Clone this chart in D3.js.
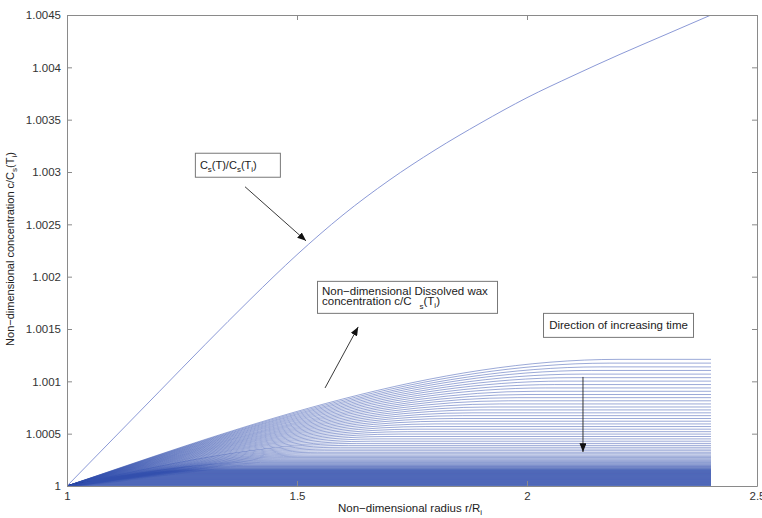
<!DOCTYPE html>
<html>
<head>
<meta charset="utf-8">
<script src="https://cdn.jsdelivr.net/npm/d3@7"></script>
<style>
  body { margin: 0; background: #fff; }
  text { font-family: "Liberation Sans", Arial, sans-serif; }
</style>
</head>
<body>
<svg id="chart" width="762" height="518"></svg>
<script>
// axis ticks
var radiusTicks = [1, 1.5, 2, 2.5];
var radiusLabels = ["1", "1.5", "2", "2.5"];
var concTicks = [1, 1.0005, 1.001, 1.0015, 1.002, 1.0025, 1.003, 1.0035, 1.004, 1.0045];
var concLabels = ["1", "1.0005", "1.001", "1.0015", "1.002", "1.0025", "1.003", "1.0035", "1.004", "1.0045"];

// Cs(T)/Cs(Ti) curve
var satRadius = [1.0, 1.1, 1.2, 1.3, 1.4, 1.5, 1.6, 1.7, 1.8, 1.9, 2.0, 2.1, 2.2, 2.3, 2.4];
var satConc = [1, 1.00045, 1.0009, 1.00135, 1.00179, 1.00221, 1.00259, 1.00292, 1.00321,
               1.00347, 1.00371, 1.00392, 1.00412, 1.00431, 1.0045];

// dissolved wax profiles (one per time step): level reached at r = 2.4
// and the radius where each profile flattens out
var plateauLevel = [1.00121, 1.001174, 1.001138, 1.001104, 1.001069, 1.001035, 1.001002, 1.000969,
  1.000937, 1.000905, 1.000874, 1.000844, 1.000814, 1.000784, 1.000755, 1.000727, 1.000699,
  1.000672, 1.000645, 1.000619, 1.000593, 1.000568, 1.000543, 1.000519, 1.000496, 1.000473,
  1.00045, 1.000428, 1.000407, 1.000388, 1.00037, 1.000353, 1.000337, 1.000322, 1.000308,
  1.000295, 1.000283, 1.000272, 1.000261, 1.000251, 1.000242, 1.000233, 1.000225, 1.000217,
  1.00021, 1.000203, 1.000197, 1.000191, 1.000186, 1.000181, 1.000176, 1.000171, 1.000167,
  1.000162, 1.000158, 1.000155, 1.000152, 1.000149, 1.000146, 1.000143, 1.00014, 1.000137,
  1.000134, 1.000131, 1.000128, 1.000125, 1.000122, 1.000119, 1.000116, 1.000113, 1.00011,
  1.000107, 1.000104, 1.000101, 1.000098, 1.000095, 1.000092, 1.000089, 1.000086, 1.000083,
  1.00008, 1.000077, 1.000074, 1.000071, 1.000068, 1.000065, 1.000062, 1.000059, 1.000056,
  1.000053, 1.00005, 1.000047, 1.000044, 1.000041, 1.000038, 1.000035, 1.000032, 1.000029,
  1.000026, 1.000023, 1.00002, 1.000017, 1.000014, 1.000011, 1.000008, 1.000005, 1.000002];
var plateauStart = [2.20, 2.18, 2.16, 2.14, 2.12, 2.10, 2.08, 2.06, 2.04, 2.02, 2.00, 1.98,
  1.96, 1.94, 1.92, 1.90, 1.88, 1.86, 1.84, 1.82, 1.80, 1.78, 1.76, 1.74, 1.72, 1.70,
  1.68, 1.66, 1.63, 1.612, 1.594, 1.577, 1.56, 1.545, 1.529, 1.515, 1.502, 1.489, 1.476,
  1.464, 1.452, 1.439, 1.421, 1.411, 1.402, 1.393, 1.384, 1.376, 1.369, 1.363, 1.355,
  1.345, 1.337,
  1.328, 1.321, 1.316, 1.311, 1.305, 1.300, 1.295, 1.289, 1.284, 1.279, 1.273, 1.268,
  1.263, 1.257, 1.252, 1.246, 1.241, 1.236, 1.230, 1.225, 1.220, 1.214, 1.209, 1.204, 1.198,
  1.193, 1.188, 1.182, 1.177, 1.172, 1.166, 1.161, 1.156, 1.150, 1.145, 1.140, 1.134, 1.129,
  1.124, 1.118, 1.113, 1.108, 1.102, 1.097, 1.092, 1.086, 1.081, 1.076, 1.070, 1.065, 1.060,
  1.054, 1.049, 1.044];
var wallRadius = 1, outerRadius = 2.4;

var margin = { top: 15, right: 5, bottom: 32, left: 67 },
    width = 762 - margin.left - margin.right,
    height = 518 - margin.top - margin.bottom;

var svg = d3.select("#chart");
var g = svg.append("g").attr("transform", "translate(" + margin.left + "," + margin.top + ")");

var x = d3.scaleLinear().domain([1, 2.5]).range([0, width]);
var y = d3.scaleLinear().domain([1, 1.0045]).range([height, 0]);

var defs = svg.append("defs");
defs.append("clipPath").attr("id", "plotclip")
    .append("rect").attr("width", width).attr("height", height);

defs.append("marker")
    .attr("id", "head")
    .attr("viewBox", "0 0 10 8")
    .attr("refX", 10).attr("refY", 4)
    .attr("markerWidth", 9).attr("markerHeight", 7)
    .attr("markerUnits", "userSpaceOnUse")
    .attr("orient", "auto")
    .append("path").attr("d", "M0,0L10,4L0,8Z").attr("fill", "#111");

var line = d3.line()
    .x(function(d) { return x(d[0]); })
    .y(function(d) { return y(d[1]); })
    .curve(d3.curveMonotoneX);

var plot = g.append("g").attr("clip-path", "url(#plotclip)");

var profiles = plateauLevel.map(function(lvl, i) {
    return [[wallRadius, 1], [plateauStart[i], lvl], [outerRadius, lvl]];
});

plot.append("g")
    .attr("fill", "none")
    .attr("stroke", "#3350ad")
    .attr("stroke-opacity", 0.62)
    .attr("stroke-width", 0.8)
    .selectAll("path")
    .data(profiles)
    .enter().append("path")
    .attr("d", line);

plot.append("path")
    .datum(satRadius.map(function(r, i) { return [r, satConc[i]]; }))
    .attr("fill", "none")
    .attr("stroke", "#6d7fcc")
    .attr("stroke-width", 0.8)
    .attr("d", line);

// axes, MATLAB style box with inward ticks
function styleAxis(sel) {
    sel.selectAll("path.domain").attr("stroke", "#8a8a8a");
    sel.selectAll(".tick line").attr("stroke", "#8a8a8a");
    sel.selectAll("text").attr("fill", "#333").style("font-size", "11.5px")
        .style("font-family", "'Liberation Sans', Arial, sans-serif");
}

g.append("g")
    .attr("transform", "translate(0," + height + ")")
    .call(d3.axisBottom(x).tickValues(radiusTicks)
        .tickFormat(function(d, i) { return radiusLabels[i]; })
        .tickSizeInner(-5).tickSizeOuter(0).tickPadding(6))
    .call(styleAxis);

g.append("g")
    .call(d3.axisTop(x).tickValues(radiusTicks).tickFormat("")
        .tickSizeInner(-5).tickSizeOuter(0))
    .call(styleAxis);

g.append("g")
    .call(d3.axisLeft(y).tickValues(concTicks)
        .tickFormat(function(d, i) { return concLabels[i]; })
        .tickSizeInner(-5).tickSizeOuter(0).tickPadding(6))
    .call(styleAxis);

g.append("g")
    .attr("transform", "translate(" + width + ",0)")
    .call(d3.axisRight(y).tickValues(concTicks).tickFormat("")
        .tickSizeInner(-5).tickSizeOuter(0))
    .call(styleAxis);

// axis titles
var xt = svg.append("text")
    .attr("x", margin.left + x(1.75) - 2).attr("y", 512)
    .attr("text-anchor", "middle").attr("fill", "#222").style("font-size", "11.5px");
xt.append("tspan").text("Non\u2212dimensional radius r/R");
xt.append("tspan").attr("dy", 3).style("font-size", "8px").text("i");

var yt = svg.append("text")
    .attr("transform", "translate(14,249) rotate(-90)")
    .attr("text-anchor", "middle").attr("fill", "#222").style("font-size", "11px");
yt.append("tspan").text("Non\u2212dimensional concentration c/C");
yt.append("tspan").attr("dy", 3).style("font-size", "8px").text("s");
yt.append("tspan").attr("dy", -3).text("(T");
yt.append("tspan").attr("dy", 3).style("font-size", "8px").text("i");
yt.append("tspan").attr("dy", -3).text(")");

// annotations, placed in data coordinates
function box(r, c, w, h) {
    g.append("rect")
        .attr("x", x(r) + 0.5).attr("y", y(c) + 0.5)
        .attr("width", w).attr("height", h)
        .attr("fill", "#fff").attr("stroke", "#777").attr("stroke-width", 1);
}
function arrow(r0, c0, r1, c1) {
    g.append("line")
        .attr("x1", x(r0)).attr("y1", y(c0))
        .attr("x2", x(r1)).attr("y2", y(c1))
        .attr("stroke", "#222").attr("stroke-width", 0.9)
        .attr("marker-end", "url(#head)");
}

box(1.278, 1.003184, 85, 24);
var t1 = g.append("text").attr("x", x(1.278) + 5).attr("y", y(1.003184) + 16)
    .attr("fill", "#222").style("font-size", "11px");
t1.append("tspan").text("C");
t1.append("tspan").attr("dy", 3).style("font-size", "8px").text("s");
t1.append("tspan").attr("dy", -3).text("(T)/C");
t1.append("tspan").attr("dy", 3).style("font-size", "8px").text("s");
t1.append("tspan").attr("dy", -3).text("(T");
t1.append("tspan").attr("dy", 3).style("font-size", "8px").text("i");
t1.append("tspan").attr("dy", -3).text(")");
arrow(1.387, 1.002859, 1.5196, 1.002342);

box(1.5435, 1.00196, 180, 32);
g.append("text").attr("x", x(1.5435) + 5).attr("y", y(1.00196) + 14)
    .attr("fill", "#222").style("font-size", "11.5px")
    .text("Non\u2212dimensional Dissolved wax");
var t2b = g.append("text").attr("x", x(1.5435) + 5).attr("y", y(1.00196) + 24)
    .attr("fill", "#222").style("font-size", "11.5px");
t2b.append("tspan").text("concentration c/C");
t2b.append("tspan").attr("dx", 8).attr("dy", 4).style("font-size", "8px").text("s");
t2b.append("tspan").attr("dy", -4).text("(T");
t2b.append("tspan").attr("dy", 3).style("font-size", "8px").text("i");
t2b.append("tspan").attr("dy", -3).text(")");
arrow(1.561, 1.000937, 1.633, 1.00152);

box(2.0348, 1.001654, 150, 24);
g.append("text").attr("x", x(2.0348) + 75.5).attr("y", y(1.001654) + 16)
    .attr("text-anchor", "middle")
    .attr("fill", "#222").style("font-size", "11.5px")
    .text("Direction of increasing time");
arrow(2.1217, 1.001042, 2.1217, 1.000325);
</script>
</body>
</html>
